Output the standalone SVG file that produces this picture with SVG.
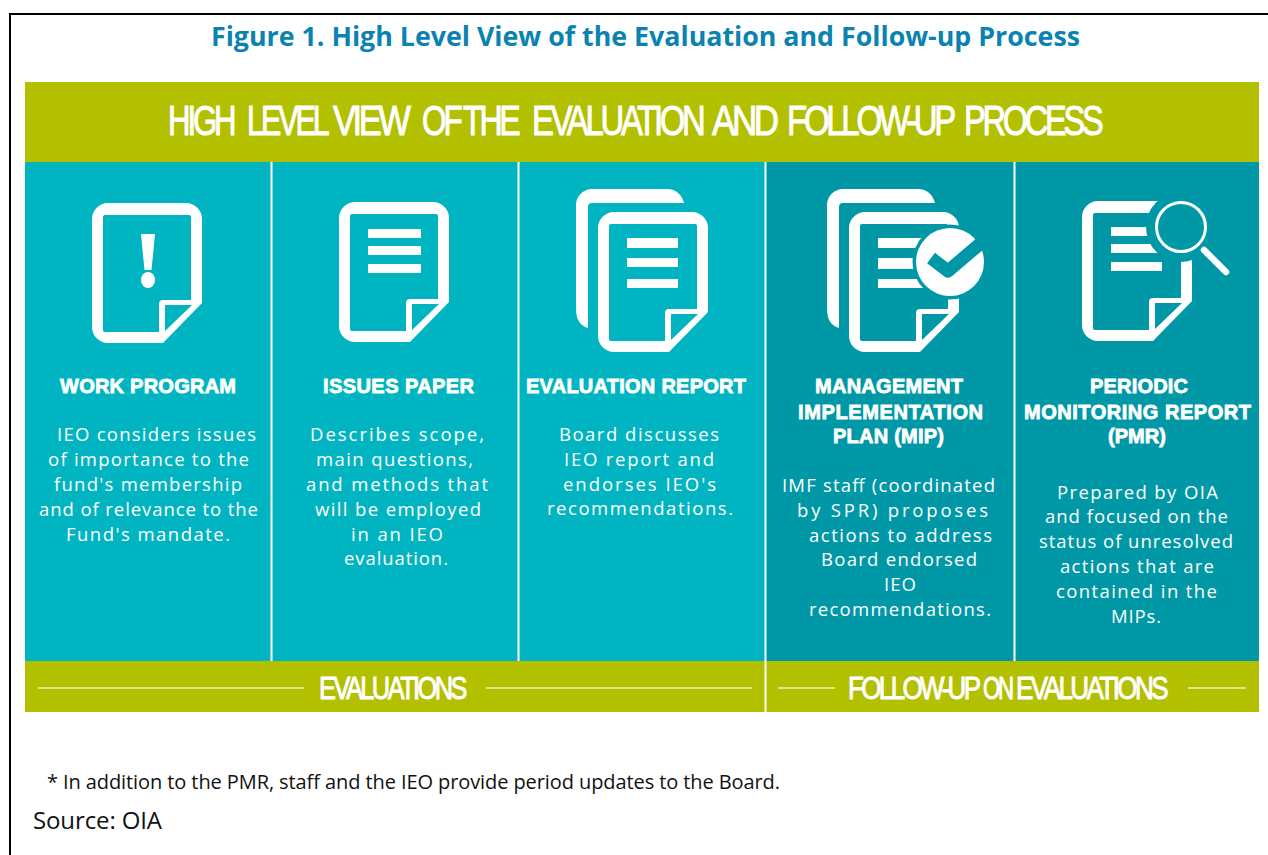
<svg xmlns="http://www.w3.org/2000/svg" width="1268" height="855" viewBox="0 0 1268 855">
<style>
.w{fill:#fff}
.t{fill:#fff;fill-rule:evenodd}
.b{font-family:"Open Sans","Noto Sans",sans-serif;font-size:18.500px;fill:#fff}
.h{font-family:"Liberation Sans",Arial,sans-serif;font-size:20px;font-weight:bold;fill:#fff;stroke:#fff;stroke-width:.8}
.big{font-family:"Liberation Sans",Arial,sans-serif;fill:#fff;stroke:#fff;stroke-width:1;letter-spacing:-.1em}
.sep{stroke:#fff;stroke-width:2;fill:none}
.rule{stroke:#dfe58a;stroke-width:2}
.l{fill:#fff}
</style>
<defs>
<path id="doc" class="t" d="M16,0H94a16,16 0 0 1 16,16V100L71,140H16a16,16 0 0 1 -16,-16V16a16,16 0 0 1 16,-16ZM13,12a2,2 0 0 0 -2,2V127a2,2 0 0 0 2,2H67V101a4,4 0 0 1 4,-4H99V14a2,2 0 0 0 -2,-2ZM73,102V128L100,102Z"/>
<path id="back" class="w" d="M12,139C4,137 0,130 0,120V16a16,16 0 0 1 16,-16H91C100,0 106,6 108,14H16a4,4 0 0 0 -4,4Z"/>
</defs>
<rect width="1268" height="855" fill="#fff"/>
<path d="M10,855V14H1268" fill="none" stroke="#000" stroke-width="2"/>
<text id="title" x="211" y="46" textLength="869" lengthAdjust="spacingAndGlyphs" font-family="'Open Sans','Noto Sans',sans-serif" font-size="26" font-weight="700" fill="#0a83b0">Figure 1. High Level View of the Evaluation and Follow-up Process</text>
<rect x="25" y="162" width="741" height="499" fill="#00b5c1"/>
<rect x="766" y="162" width="493" height="499" fill="#0098a6"/>
<rect x="25" y="82" width="1234" height="80" fill="#b3c000"/>
<rect x="25" y="661" width="1234" height="51" fill="#b3c000"/>
<g id="connectors">
<path class="sep" d="M271.500,162V661M518.500,162V661M1014.500,162V661M765.500,162V712"/>
<path class="rule" d="M38,688H304M486,688H752M778,688H835M1188,688H1246"/>
</g>
<text id="banner" class="big" y="135" font-size="42"><tspan x="168" textLength="65.500" lengthAdjust="spacingAndGlyphs">HIGH</tspan> <tspan x="247" textLength="78.500" lengthAdjust="spacingAndGlyphs">LEVEL</tspan> <tspan x="333" textLength="74.500" lengthAdjust="spacingAndGlyphs">VIEW</tspan> <tspan x="422" textLength="37.500" lengthAdjust="spacingAndGlyphs">OF</tspan> <tspan x="463" textLength="54.500" lengthAdjust="spacingAndGlyphs">THE</tspan> <tspan x="532" textLength="170.500" lengthAdjust="spacingAndGlyphs">EVALUATION</tspan> <tspan x="712" textLength="63.500" lengthAdjust="spacingAndGlyphs">AND</tspan> <tspan x="787" textLength="165.500" lengthAdjust="spacingAndGlyphs">FOLLOW-UP</tspan> <tspan x="964" textLength="136.500" lengthAdjust="spacingAndGlyphs">PROCESS</tspan></text>
<text id="band-evaluations" class="big" x="319" y="699" font-size="32" textLength="146" lengthAdjust="spacingAndGlyphs">EVALUATIONS</text>
<text id="band-followup" class="big" y="699" font-size="32"><tspan x="848" textLength="130" lengthAdjust="spacingAndGlyphs">FOLLOW-UP</tspan> <tspan x="983" textLength="29" lengthAdjust="spacingAndGlyphs">ON</tspan> <tspan x="1016" textLength="150" lengthAdjust="spacingAndGlyphs">EVALUATIONS</tspan></text>

<g id="node-work-program">
<use href="#doc" x="92" y="203"/>
<path class="w" d="M141,234H155L151.500,270H144.500Z"/><ellipse class="w" cx="148" cy="280" rx="7" ry="8"/>
<text class="h" x="60" y="393" textLength="176">WORK PROGRAM</text>
<text class="b" x="57" y="441" textLength="199">IEO considers issues</text>
<text class="b" x="48" y="466" textLength="201">of importance to the</text>
<text class="b" x="54" y="491" textLength="188">fund's membership</text>
<text class="b" x="39" y="516" textLength="219">and of relevance to the</text>
<text class="b" x="66" y="541" textLength="164">Fund's mandate.</text>
</g>
<g id="node-issues-paper">
<use href="#doc" x="339" y="202"/>
<rect class="l" x="368" y="229" width="53" height="9"/><rect class="l" x="368" y="246" width="53" height="9"/><rect class="l" x="368" y="264" width="53" height="9"/>
<text class="h" x="323" y="393" textLength="151">ISSUES PAPER</text>
<text class="b" x="310" y="441" textLength="174">Describes scope,</text>
<text class="b" x="316" y="466" textLength="157">main questions,</text>
<text class="b" x="306" y="491" textLength="182">and methods that</text>
<text class="b" x="315" y="516" textLength="166">will be employed</text>
<text class="b" x="351" y="541" textLength="92">in an IEO</text>
<text class="b" x="344" y="565" textLength="104">evaluation.</text>
</g>
<g id="node-evaluation-report">
<use href="#back" x="576" y="189"/>
<use href="#doc" x="598" y="212"/>
<rect class="l" x="627" y="238" width="51" height="10"/><rect class="l" x="627" y="258" width="51" height="9"/><rect class="l" x="627" y="279" width="51" height="9"/>
<text class="h" x="526" y="393" textLength="220">EVALUATION REPORT</text>
<text class="b" x="559" y="441" textLength="160">Board discusses</text>
<text class="b" x="564" y="466" textLength="150">IEO report and</text>
<text class="b" x="563" y="491" textLength="153">endorses IEO's</text>
<text class="b" x="547" y="515" textLength="186">recommendations.</text>
</g>
<g id="node-mip">
<use href="#back" x="827" y="189"/>
<use href="#doc" x="849" y="212"/>
<rect class="l" x="878" y="238" width="60" height="10"/><rect class="l" x="878" y="258" width="60" height="11"/><rect class="l" x="878" y="279" width="60" height="9"/>
<circle cx="950" cy="262" r="37.500" fill="#0098a6"/>
<circle class="w" cx="950" cy="262" r="34"/>
<path d="M931,258L948,271L981,243" fill="none" stroke="#0098a6" stroke-width="13" stroke-linejoin="round"/>
<text class="h" x="815" y="393" textLength="148">MANAGEMENT</text>
<text class="h" x="798" y="419" textLength="185">IMPLEMENTATION</text>
<text class="h" x="833" y="443" textLength="111">PLAN (MIP)</text>
<text class="b" x="782" y="492" textLength="213">IMF staff (coordinated</text>
<text class="b" x="797" y="517" textLength="191">by SPR) proposes</text>
<text class="b" x="809" y="542" textLength="183">actions to address</text>
<text class="b" x="821" y="566" textLength="156">Board endorsed</text>
<text class="b" x="884" y="591" textLength="32">IEO</text>
<text class="b" x="809" y="616" textLength="182">recommendations.</text>
</g>
<g id="node-pmr">
<use href="#doc" x="1082" y="201"/>
<rect class="l" x="1111" y="227" width="52" height="9"/><rect class="l" x="1111" y="244" width="52" height="9"/><rect class="l" x="1111" y="262" width="51" height="9"/>
<circle cx="1181" cy="227" r="35" fill="#0098a6"/>
<circle cx="1181" cy="227" r="24.500" fill="none" stroke="#fff" stroke-width="3"/>
<path d="M1204,250L1226,272" stroke="#fff" stroke-width="6.500" stroke-linecap="round"/>
<text class="h" x="1090" y="393" textLength="98">PERIODIC</text>
<text class="h" x="1024" y="419" textLength="227">MONITORING REPORT</text>
<text class="h" x="1108" y="443" textLength="58">(PMR)</text>
<text class="b" x="1057" y="499" textLength="161">Prepared by OIA</text>
<text class="b" x="1045" y="523" textLength="183">and focused on the</text>
<text class="b" x="1039" y="548" textLength="194">status of unresolved</text>
<text class="b" x="1060" y="573" textLength="154">actions that are</text>
<text class="b" x="1056" y="598" textLength="161">contained in the</text>
<text class="b" x="1111" y="623" textLength="50">MIPs.</text>
</g>
<text id="footnote" x="47" y="789" textLength="733" font-family="'Open Sans','Noto Sans',sans-serif" font-size="20" fill="#111">* In addition to the PMR, staff and the IEO provide period updates to the Board.</text>
<text id="source" x="33" y="829" textLength="129" font-family="'Open Sans','Noto Sans',sans-serif" font-size="24" fill="#111">Source: OIA</text>
</svg>
